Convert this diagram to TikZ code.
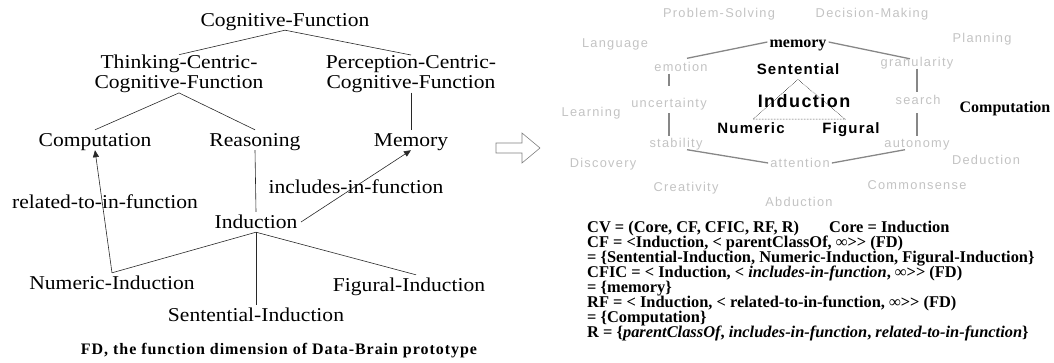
\documentclass[tikz,border=0pt]{standalone}
\usepackage{fontspec}
\setmainfont{Liberation Serif}
\newfontfamily\lsf[FakeStretch=1.1]{Liberation Serif}
\newfontfamily\capfont[LetterSpace=6]{Liberation Serif}
\newfontfamily\gsans[LetterSpace=10]{Liberation Sans}
\newfontfamily\bsans[LetterSpace=8]{Liberation Sans}
\usetikzlibrary{arrows.meta,calc}
\definecolor{lbl}{RGB}{195,195,195}
\definecolor{hexc}{RGB}{135,135,135}
\definecolor{treec}{RGB}{40,40,40}
\begin{document}
\begin{tikzpicture}[x=1pt,y=-1pt,
  lnode/.style={font=\lsf\fontsize{19.6}{20}\selectfont, text height=13pt, text depth=0pt, inner sep=3.5pt},
  lmulti/.style={font=\lsf\fontsize{19.6}{20}\selectfont, align=center, inner sep=0pt},
  llbl/.style={font=\lsf\fontsize{19.6}{20}\selectfont, text height=13pt, text depth=0pt, inner sep=0pt},
  tree/.style={draw=treec, line width=0.6pt},
  arr/.style={tree, -{Triangle[length=7pt,width=6pt]}},
  glbl/.style={font=\gsans\fontsize{12.8}{14}\selectfont, text=lbl, text height=9pt, text depth=0pt, inner sep=2pt},
  bsn/.style={font=\bsans\bfseries\fontsize{15}{16}\selectfont, text height=10.5pt, text depth=0pt, inner sep=2pt},
  bsr/.style={font=\bfseries\fontsize{16}{18}\selectfont, text height=10.5pt, text depth=0pt, inner sep=2pt},
  hex/.style={draw=hexc, line width=1.3pt},
  txt/.style={font=\bfseries\fontsize{16.4}{16}\selectfont, anchor=west, inner sep=0pt, text height=10.5pt, text depth=0pt}
]
\useasboundingbox (0,0) rectangle (1054,362);

% ---------- left: function dimension tree ----------
\node[lnode] (cf) at (285,20) {Cognitive-Function};
\node[lmulti] (tc) at (179,73.8) {Thinking-Centric-\\Cognitive-Function};
\node[lmulti] (pc) at (411,73.8) {Perception-Centric-\\Cognitive-Function};
\node[lnode] (comp) at (95,140) {Computation};
\node[lnode] (reas) at (255,140) {Reasoning};
\node[lnode] (mem) at (411,140) {Memory};
\node[lnode] (ind) at (256,222) {Induction};
\node[lnode] (num) at (112,283) {Numeric-Induction};
\node[lnode] (fig) at (409,285) {Figural-Induction};
\node[lnode] (sen) at (256,315) {Sentential-Induction};
\node[llbl] (rel) at (105,202) {related-to-in-function};
\node[llbl] (inc) at (356,187) {includes-in-function};
\node[font=\capfont\bfseries\fontsize{16}{17}\selectfont, inner sep=0pt] (cap) at (279,351) {FD, the function dimension of Data-Brain prototype};

\draw[tree] (cf.south) -- (tc.north);
\draw[tree] (cf.south) -- (pc.north);
\draw[tree] (tc.south) -- (comp.north);
\draw[tree] (tc.south) -- (reas.north);
\draw[tree] (pc.south) -- (mem.north);
\draw[tree] (reas.south) -- (ind.north);
\draw[tree] (ind.south) -- (num.north);
\draw[tree] (ind.south) -- (sen.north);
\draw[tree] (ind.south) -- ([xshift=7pt]fig.north);
\draw[arr] (num.north) -- (comp.south);
\draw[arr] (ind.east) -- (mem.south);

% ---------- hollow arrow ----------
\draw[draw=gray, line width=0.6pt, line join=miter] (496,143) -- (522,143) -- (522,133) -- (540,148) -- (522,163) -- (522,153) -- (496,153) -- cycle;

% ---------- right: cognitive view ----------
\node[glbl] (ps) at (719,13) {Problem-Solving};
\node[glbl] (dm) at (872,13) {Decision-Making};
\node[glbl] (lang) at (615,43) {Language};
\node[glbl] (plan) at (982,38) {Planning};
\node[glbl] (emo) at (681,67) {emotion};
\node[glbl] (gran) at (917,62) {granularity};
\node[glbl] (unc) at (669,103) {uncertainty};
\node[glbl] (learn) at (591,112) {Learning};
\node[glbl] (srch) at (918,100) {search};
\node[glbl] (stab) at (676,143) {stability};
\node[glbl] (auto) at (917,143) {autonomy};
\node[glbl] (disc) at (603,163) {Discovery};
\node[glbl] (att) at (800,163) {attention};
\node[glbl] (ded) at (986,160) {Deduction};
\node[glbl] (crea) at (686,187) {Creativity};
\node[glbl] (comm) at (917,185) {Commonsense};
\node[glbl] (abd) at (799,202) {Abduction};

\node[bsr] (rmem) at (798,42) {memory};
\node[bsr] (rcomp) at (1005,107) {Computation};
\node[bsn] (rsen) at (798,69) {Sentential};
\node[bsn] (rnum) at (751,128) {Numeric};
\node[bsn] (rfig) at (851,128) {Figural};
\draw[densely dotted, line width=0.5pt] ([yshift=-3pt]rsen.south) -- ([xshift=2pt,yshift=1.5pt]rnum.north) -- ([xshift=-6pt,yshift=1.5pt]rfig.north) -- cycle;
\node[font=\bsans\bfseries\fontsize{18}{20}\selectfont, text height=12.6pt, text depth=0pt, inner sep=2pt] (rind) at (804,101) {Induction};

\draw[hex] (rmem.west) -- ([xshift=6pt,yshift=2pt]emo.north);
\draw[hex] (rmem.east) -- ([xshift=-7pt,yshift=-3.5pt]gran.north);
\draw[hex] (emo.south -| unc.north) -- ([yshift=10.5pt]unc.north);
\draw[hex] ([yshift=-3.5pt]unc.south) -- (stab.north -| unc.north);
\draw[hex] (gran.south) -- ([yshift=1.5pt]srch.north -| gran.south);
\draw[hex] ([yshift=-6.5pt]srch.south -| gran.south) -- (auto.north -| gran.south);
\draw[hex] ([xshift=11pt]stab.south) -- (att.west);
\draw[hex] (att.east) -- ([xshift=-12pt]auto.south);

% ---------- formula block ----------
\node[txt] (l1) at (587,227) {CV = (Core, CF, CFIC, RF, R)};
\node[txt] (l1b) at (829,227) {Core = Induction};
\node[txt] (l2) at (587,242) {CF = <Induction, < parentClassOf, ∞>{}> (FD)};
\node[txt] (l3) at (587,257) {= \{Sentential-Induction, Numeric-Induction, Figural-Induction\}};
\node[txt] (l4) at (587,272) {CFIC = < Induction, < \textit{includes-in-function}, ∞>{}> (FD)};
\node[txt] (l5) at (587,287) {= \{memory\}};
\node[txt] (l6) at (587,302) {RF = < Induction, < related-to-in-function, ∞>{}> (FD)};
\node[txt] (l7) at (587,317) {= \{Computation\}};
\node[txt] (l8) at (587,332) {R = \{\textit{parentClassOf}, \textit{includes-in-function}, \textit{related-to-in-function}\}};
\end{tikzpicture}
\end{document}
